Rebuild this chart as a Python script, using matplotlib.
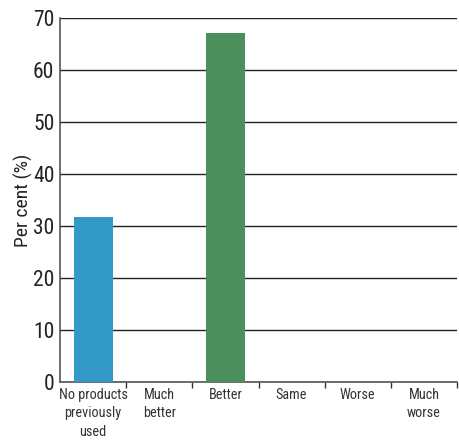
import numpy as np
import matplotlib
matplotlib.use('Agg')
import matplotlib.pyplot as plt

# dati
categories = ['No products\npreviously\nused', 'Much\nbetter', 'Better', 'Same', 'Worse', 'Much\nworse']
values = [31.7, 0, 67.2, 0, 0, 0]
colors = ['#3399c6', '#3399c6', '#4a8f5c', '#4a8f5c', '#4a8f5c', '#4a8f5c']
yticks = [0, 10, 20, 30, 40, 50, 60, 70]

plt.rcParams['font.family'] = ['Roboto Condensed', 'Liberation Sans Narrow', 'Roboto', 'DejaVu Sans']

fig = plt.figure(figsize=(4.59, 4.41), dpi=100)
ax = fig.add_axes([0.1307, 0.1338, 0.865, 0.8254])

x = np.arange(len(categories))
ax.bar(x, values, width=0.59, color=colors, zorder=3)

ax.set_xlim(-0.5, len(categories) - 0.5)
ax.set_ylim(0, 70)
ax.set_yticks(yticks)
ax.tick_params(axis='y', length=0, labelsize=15.5, pad=4, colors='#222222')

# etichette categorie (l'ultima riga sta appena dentro il bordo)
ax.set_xticks(x)
ax.set_xticklabels(categories, fontsize=10.3, linespacing=1.42, color='#333333')
ax.tick_params(axis='x', length=0, pad=4)
ax.set_xticks(np.arange(0.5, len(categories) - 0.4, 1), minor=True)
ax.tick_params(axis='x', which='minor', length=4, width=1, color='#333333')

ax.grid(axis='y', color='#222222', linewidth=1, zorder=1)
ax.set_axisbelow(True)
ax.set_ylabel('Per cent (%)', fontsize=14, labelpad=0, color='#222222')

for s in ['top', 'right']:
    ax.spines[s].set_visible(False)
for s in ['left', 'bottom']:
    ax.spines[s].set_color('#555555')
    ax.spines[s].set_linewidth(1.2)

fig.savefig('out.png', dpi=100)
